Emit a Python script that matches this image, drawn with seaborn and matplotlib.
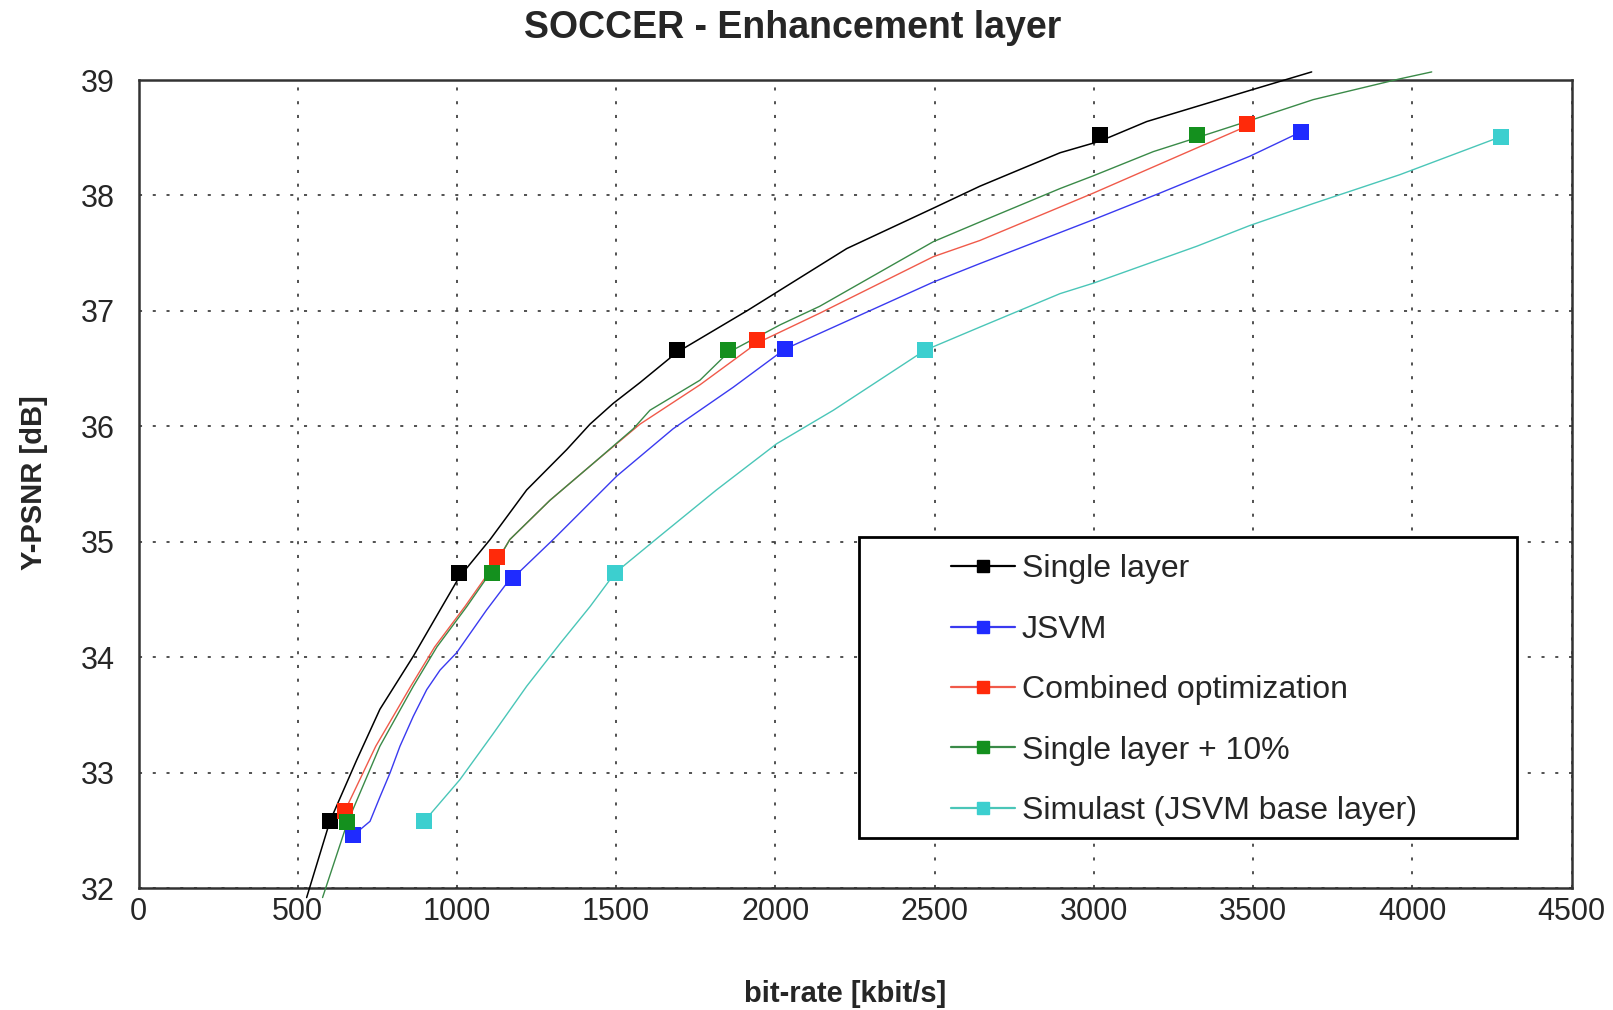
import matplotlib
matplotlib.use("Agg")
import matplotlib.pyplot as plt
from matplotlib.lines import Line2D
from matplotlib.patches import Rectangle
import seaborn as sns
import pandas as pd

# ---- data: measured points (markers) ----
single_x = [601, 1006, 1690, 3019]
single_y = [32.58, 34.73, 36.66, 38.52]
jsvm_x = [675, 1177, 2030, 3650]
jsvm_y = [32.46, 34.69, 36.67, 38.55]
comb_x = [648, 1127, 1941, 3480]
comb_y = [32.67, 34.87, 36.75, 38.62]
plus10_x = [656, 1109, 1852, 3323]
plus10_y = [32.57, 34.73, 36.66, 38.52]
simul_x = [897, 1496, 2470, 4279]
simul_y = [32.58, 34.73, 36.66, 38.51]

# ---- data: curves ----
single_cx = [528, 601, 685, 758, 863, 947, 1006, 1104, 1219, 1345, 1418, 1491, 1575, 1690,
             1910, 2224, 2496, 2642, 2894, 3019, 3166, 3490, 3684]
single_cy = [31.92, 32.58, 33.11, 33.55, 34.01, 34.41, 34.69, 35.02, 35.45, 35.80, 36.02, 36.20,
             36.38, 36.64, 37.00, 37.54, 37.89, 38.08, 38.37, 38.47, 38.64, 38.91, 39.07]
jsvm_cx = [675, 727, 758, 790, 821, 863, 905, 947, 999, 1093, 1156, 1177, 1302, 1502, 1679,
           1868, 2030, 2496, 2642, 2998, 3207, 3490, 3650]
jsvm_cy = [32.46, 32.58, 32.79, 33.0, 33.23, 33.49, 33.72, 33.89, 34.04, 34.41, 34.64, 34.69,
           35.02, 35.57, 35.98, 36.34, 36.67, 37.25, 37.41, 37.79, 38.02, 38.34, 38.55]
comb_cx = [648, 745, 855, 930, 1025, 1127, 1166, 1292, 1428, 1575, 1763, 1941, 2139, 2496,
           2642, 2894, 2998, 3480]
comb_cy = [32.67, 33.23, 33.75, 34.09, 34.44, 34.84, 35.02, 35.36, 35.68, 36.02, 36.36, 36.72,
           36.98, 37.47, 37.61, 37.90, 38.02, 38.60]
plus10_cx = [578, 656, 758, 863, 937, 1031, 1104, 1166, 1292, 1428, 1554, 1606, 1763, 1852,
             2015, 2139, 2496, 2642, 2894, 2998, 3187, 3323, 3480, 3689, 3961, 4061]
plus10_cy = [31.92, 32.57, 33.23, 33.75, 34.09, 34.44, 34.73, 35.02, 35.36, 35.68, 35.98, 36.14,
             36.40, 36.64, 36.88, 37.04, 37.60, 37.77, 38.06, 38.17, 38.38, 38.50, 38.64, 38.83,
             39.01, 39.07]
simul_cx = [897, 1009, 1114, 1219, 1324, 1418, 1496, 1637, 1815, 2004, 2182, 2470, 2642, 2894,
            2998, 3323, 3490, 3689, 3961, 4279]
simul_cy = [32.58, 32.94, 33.34, 33.75, 34.12, 34.44, 34.73, 35.05, 35.45, 35.85, 36.14, 36.66,
            36.86, 37.15, 37.24, 37.56, 37.74, 37.93, 38.18, 38.51]

labels = ["Single layer", "JSVM", "Combined optimization", "Single layer + 10%",
          "Simulast (JSVM base layer)"]
x_ticks = [0, 500, 1000, 1500, 2000, 2500, 3000, 3500, 4000, 4500]
y_ticks = [32, 33, 34, 35, 36, 37, 38, 39]

sns.set_theme(style="white")
FONT = ["Liberation Sans", "DejaVu Sans"]
plt.rcParams["font.family"] = FONT

fig = plt.figure(figsize=(16.13, 10.10), dpi=100)
ax = fig.add_axes([138.5 / 1613, 1 - 888.3 / 1010, 1433 / 1613, 808.3 / 1010])

series = [
    (single_x, single_y, single_cx, single_cy, "#000000", "#000000", 1.1, False),
    (jsvm_x, jsvm_y, jsvm_cx, jsvm_cy, "#1f2bff", "#3a3af0", 1.0, True),
    (comb_x, comb_y, comb_cx, comb_cy, "#ff2a0a", "#f05a4a", 1.0, True),
    (plus10_x, plus10_y, plus10_cx, plus10_cy, "#14901e", "#3a8a48", 1.0, False),
    (simul_x, simul_y, simul_cx, simul_cy, "#3ccfcf", "#4ac6b8", 1.0, True),
]

handles = []
for (mx, my, cx, cy, mcol, lcol, lw, clip), lab in zip(series, labels):
    dfc = pd.DataFrame({"x": cx, "y": cy})
    sns.lineplot(data=dfc, x="x", y="y", sort=False, estimator=None, color=lcol,
                 linewidth=lw, ax=ax, clip_on=clip, zorder=3)
    dfm = pd.DataFrame({"x": mx, "y": my})
    sns.scatterplot(data=dfm, x="x", y="y", marker="s", s=120, color=mcol,
                    edgecolor=mcol, linewidth=0, ax=ax, zorder=4, clip_on=False)
    handles.append(Line2D([0], [0], color=lcol, lw=1.6, marker="s", markersize=9,
                          markerfacecolor=mcol, markeredgecolor=mcol))

ax.set_xlim(0, 4500)
ax.set_ylim(32, 39)
ax.set_xticks(x_ticks)
ax.set_yticks(y_ticks)
ax.set_xticklabels([str(t) for t in x_ticks], fontsize=22)
ax.set_yticklabels([str(t) for t in y_ticks], fontsize=22)
ax.tick_params(axis="y", length=0, pad=17)
ax.tick_params(axis="x", length=0, pad=6)

ax.grid(True, color="#222222", linestyle=(0, (2, 7)), linewidth=1.1)
for s in ax.spines.values():
    s.set_visible(True)
    s.set_color("#333333")
    s.set_linewidth(1.8)

ax.set_xlabel("")
ax.set_ylabel("")
fig.text(845 / 1613, 1 - 994 / 1010, "bit-rate [kbit/s]", ha="center", va="center",
         fontsize=21, fontweight="bold")
fig.text(34 / 1613, 1 - 483 / 1010, "Y-PSNR [dB]", ha="center", va="center", rotation=90,
         fontsize=21, fontweight="bold")
fig.text(793 / 1613, 1 - 28 / 1010, "SOCCER - Enhancement layer", ha="center", va="center",
         fontsize=27, fontweight="bold")

# legend frame
frame = Rectangle((0.503, 0.062), 0.459, 0.373, transform=ax.transAxes, fill=True,
                  facecolor="white", edgecolor="black", linewidth=2.0, zorder=6)
ax.add_patch(frame)
leg = ax.legend(handles, labels, loc="upper left", bbox_to_anchor=(0.567, 0.413),
                fontsize=23, frameon=False, handlelength=2.0, handletextpad=0.22,
                labelspacing=0.95, borderpad=0, borderaxespad=0)
leg.set_zorder(7)

fig.savefig("out.png", dpi=100)
